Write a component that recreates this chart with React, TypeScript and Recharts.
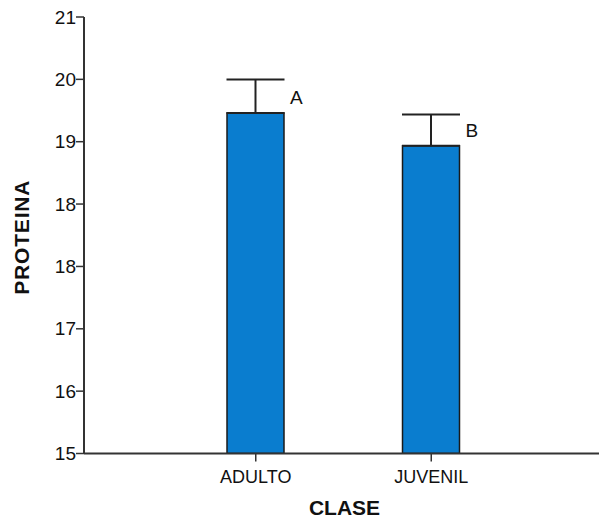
import React from 'react';
import {
  BarChart,
  Bar,
  XAxis,
  YAxis,
  ErrorBar,
  LabelList,
  Label,
} from 'recharts';

const categories = ['ADULTO', 'JUVENIL'];
const proteina = [19.68, 19.23];
const errUpper = [0.46, 0.43];
const groupLetters = ['A', 'B'];
// axis runs 15..21 split into 7 steps, labels rounded (hence two "18")
const yTicks = [15, 15.857, 16.714, 17.571, 18.429, 19.286, 20.143, 21];

const data = categories.map((name, i) => ({
  name,
  value: proteina[i],
  err: [0, errUpper[i]],
  letter: groupLetters[i],
}));

const AXIS = '#333333';
const FONT = 'Liberation Sans, Arial, sans-serif';

const LetterLabel = (props: any) => {
  const { x, y, width, value } = props;
  return (
    <text x={x + width + 6} y={y - 9} fontSize={19} fontFamily={FONT} fill="#111">
      {value}
    </text>
  );
};

const YTick = (props: any) => {
  const { x, y, payload } = props;
  return (
    <text x={x} y={y} textAnchor="end" dominantBaseline="central" fontSize={19} fontFamily={FONT} fill="#111">
      {Math.round(payload.value)}
    </text>
  );
};

const XTick = (props: any) => {
  const { x, y, payload } = props;
  return (
    <text x={x} y={y + 21} textAnchor="middle" fontSize={18} fontFamily={FONT} fill="#111">
      {payload.value}
    </text>
  );
};

const YTitle = (props: any) => {
  const { viewBox } = props;
  const cx = viewBox.x + 21;
  const cy = viewBox.y + viewBox.height / 2 + 2;
  return (
    <text
      x={cx}
      y={cy}
      transform={`rotate(-90, ${cx}, ${cy})`}
      textAnchor="middle"
      dominantBaseline="central"
      fontSize={21}
      fontWeight="bold"
      letterSpacing={0.8}
      fontFamily={FONT}
      fill="#111"
    >
      PROTEINA
    </text>
  );
};

const XTitle = (props: any) => {
  const { viewBox } = props;
  return (
    <text
      x={viewBox.x + viewBox.width / 2 + 3}
      y={viewBox.y + viewBox.height - 3}
      textAnchor="middle"
      fontSize={21}
      fontWeight="bold"
      fontFamily={FONT}
      fill="#111"
    >
      CLASE
    </text>
  );
};

export default function App() {
  return (
    <div style={{ position: 'absolute', left: 0, top: 0, background: '#fff' }}>
      <BarChart
        width={599}
        height={518}
        data={data}
        margin={{ top: 17, right: 0, left: 0, bottom: 0 }}
      >
        <XAxis
          dataKey="name"
          height={64.5}
          padding={{ left: 84, right: 80 }}
          axisLine={{ stroke: AXIS, strokeWidth: 2 }}
          tickLine={{ stroke: AXIS, strokeWidth: 1.5 }}
          tickSize={8}
          tickMargin={0}
          tick={<XTick />}
        >
          <Label content={<XTitle />} />
        </XAxis>
        <YAxis
          width={84}
          domain={[15, 21]}
          ticks={yTicks}
          allowDataOverflow
          axisLine={{ stroke: AXIS, strokeWidth: 2 }}
          tickLine={{ stroke: AXIS, strokeWidth: 1.5 }}
          tickSize={8}
          tickMargin={0}
          tick={<YTick />}
        >
          <Label content={<YTitle />} />
        </YAxis>
        <Bar
          dataKey="value"
          barSize={57}
          fill="#0a7dcf"
          stroke="#1a1a1a"
          strokeWidth={1.5}
          isAnimationActive={false}
        >
          <ErrorBar
            dataKey="err"
            direction="y"
            width={29}
            stroke="#222"
            strokeWidth={2}
            isAnimationActive={false}
          />
          <LabelList dataKey="letter" content={<LetterLabel />} />
        </Bar>
      </BarChart>
    </div>
  );
}
